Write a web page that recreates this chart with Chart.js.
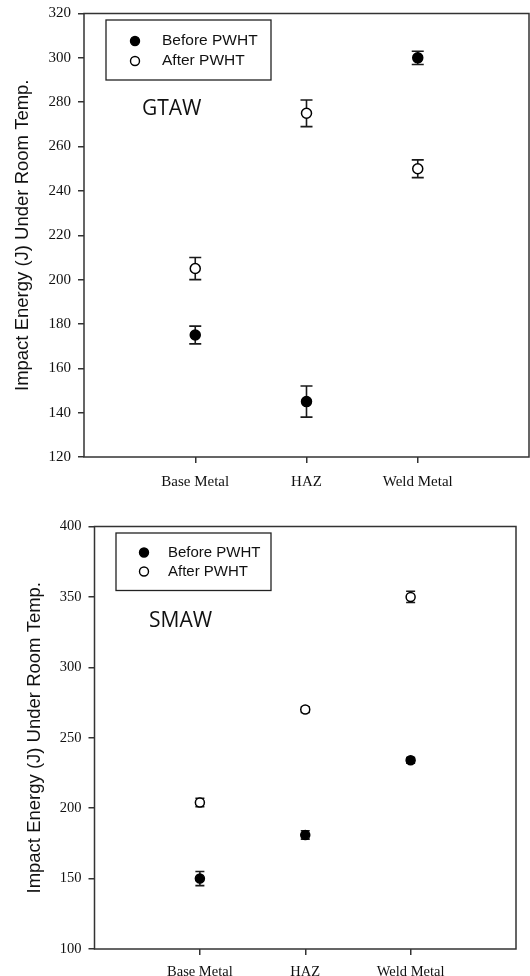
<!DOCTYPE html>
<html><head><meta charset="utf-8">
<script src="https://cdn.jsdelivr.net/npm/chart.js@4/dist/chart.umd.min.js"></script>
<style>
html,body{margin:0;padding:0;background:#fff;width:530px;height:976px;overflow:hidden}
#c1{position:absolute;left:0;top:0}
#c2{position:absolute;left:0;top:495px}
</style></head><body>
<canvas id="c1" width="530" height="495" style="width:530px;height:495px"></canvas>
<canvas id="c2" width="530" height="481" style="width:530px;height:481px"></canvas>
<script>
// ---- data ----
const categories = ['Base Metal', 'HAZ', 'Weld Metal'];
const seriesNames = ['Before PWHT', 'After PWHT'];
const yTitle = 'Impact Energy (J) Under Room Temp.';

const gtawBefore    = [175, 145, 300];
const gtawBeforeErr = [4, 7, 3];
const gtawAfter     = [205, 275, 250];
const gtawAfterErr  = [5, 6, 4];
const gtawTicks     = [120, 140, 160, 180, 200, 220, 240, 260, 280, 300, 320];

const smawBefore    = [150, 181, 234];
const smawBeforeErr = [5, 3, 2];
const smawAfter     = [204, 270, 350];
const smawAfterErr  = [3, 2, 4];
const smawTicks     = [100, 150, 200, 250, 300, 350, 400];

const INK = '#1a1a1a';

const toPts = arr => arr.map((v, i) => ({ x: i + 1, y: v }));

const errorBarPlugin = {
  id: 'errorBars',
  beforeDatasetsDraw(chart, args, opts) {
    const ctx = chart.ctx, ys = chart.scales.y;
    ctx.save();
    ctx.strokeStyle = INK;
    ctx.lineWidth = opts.lineWidth;
    chart.data.datasets.forEach((ds, di) => {
      const meta = chart.getDatasetMeta(di);
      ds.errors.forEach((e, j) => {
        const p = meta.data[j];
        const v = ds.data[j].y;
        const yt = ys.getPixelForValue(v + e), yb = ys.getPixelForValue(v - e);
        ctx.beginPath();
        ctx.moveTo(p.x, yt); ctx.lineTo(p.x, yb);
        ctx.moveTo(p.x - opts.cap, yt); ctx.lineTo(p.x + opts.cap, yt);
        ctx.moveTo(p.x - opts.cap, yb); ctx.lineTo(p.x + opts.cap, yb);
        ctx.stroke();
      });
    });
    ctx.restore();
  }
};

const framePlugin = {
  id: 'frame',
  afterDraw(chart, args, opts) {
    const a = chart.chartArea, ctx = chart.ctx;
    ctx.save();
    ctx.strokeStyle = '#333';
    ctx.lineWidth = 1.5;
    ctx.strokeRect(a.left, a.top, a.right - a.left, a.bottom - a.top);
    // inner legend box
    const L = opts.legend;
    ctx.lineWidth = 1.3;
    ctx.strokeStyle = '#222';
    ctx.strokeRect(L.x, L.y, L.w, L.h);
    ctx.font = L.font;
    ctx.textBaseline = 'middle';
    ctx.textAlign = 'left';
    chart.data.datasets.forEach((ds, i) => {
      const cy = L.rowY[i];
      ctx.beginPath();
      ctx.arc(L.markerX, cy, L.r, 0, Math.PI * 2);
      ctx.fillStyle = ds.pointBackgroundColor;
      ctx.fill();
      ctx.lineWidth = 1.4;
      ctx.strokeStyle = ds.pointBorderColor;
      ctx.stroke();
      ctx.fillStyle = '#111';
      ctx.fillText(ds.label, L.textX, cy);
    });
    // process label
    const T = opts.tag;
    ctx.font = T.font;
    ctx.fillStyle = '#111';
    ctx.fillText(T.text, T.x, T.y);
    ctx.restore();
  }
};

function makeChart(id, cfg) {
  const ds = (label, vals, errs, filled, r) => ({
    label, data: toPts(vals), errors: errs,
    pointRadius: r, pointHoverRadius: r,
    pointBackgroundColor: filled ? '#000' : '#fff',
    pointBorderColor: '#000', pointBorderWidth: 1.5,
    showLine: false
  });
  return new Chart(document.getElementById(id), {
    type: 'scatter',
    data: {
      datasets: [
        ds(seriesNames[0], cfg.before, cfg.beforeErr, true, cfg.r),
        ds(seriesNames[1], cfg.after, cfg.afterErr, false, cfg.r)
      ]
    },
    options: {
      responsive: false,
      animation: false,
      layout: { padding: cfg.padding, autoPadding: false },
      plugins: {
        legend: { display: false },
        tooltip: { enabled: false },
        errorBars: { cap: cfg.cap, lineWidth: 1.6 },
        frame: { legend: cfg.legend, tag: cfg.tag }
      },
      scales: {
        x: {
          type: 'linear', min: 0, max: 4,
          afterBuildTicks: s => { s.ticks = categories.map((c, i) => ({ value: i + 1 })); },
          afterFit: s => { s.height = cfg.xHeight; s.paddingLeft = 0; s.paddingRight = 0; },
          border: { display: false },
          grid: { drawOnChartArea: false, drawTicks: true, tickLength: 6, color: '#333', lineWidth: 1.5 },
          ticks: {
            autoSkip: false, maxRotation: 0, padding: cfg.xPad,
            color: '#111', font: { family: 'Liberation Serif', size: cfg.tickSize },
            callback: v => categories[Math.round(v) - 1] ?? ''
          }
        },
        y: {
          min: cfg.ticks[0], max: cfg.ticks[cfg.ticks.length - 1],
          afterBuildTicks: s => { s.ticks = cfg.ticks.map(v => ({ value: v })); },
          afterFit: s => { s.width = cfg.yWidth; s.paddingTop = 0; s.paddingBottom = 0; },
          border: { display: false },
          grid: { drawOnChartArea: false, drawTicks: true, tickLength: 6, color: '#333', lineWidth: 1.5 },
          ticks: {
            padding: 7, color: '#111',
            font: { family: 'Liberation Serif', size: cfg.tickSize }
          },
          title: {
            display: true, text: yTitle, color: '#111',
            font: { family: 'Liberation Sans', size: cfg.titleSize },
            padding: { top: cfg.titlePad, bottom: 0 }
          }
        }
      }
    },
    plugins: [errorBarPlugin, framePlugin]
  });
}

makeChart('c1', {
  before: gtawBefore, beforeErr: gtawBeforeErr,
  after: gtawAfter, afterErr: gtawAfterErr,
  ticks: gtawTicks, r: 5, cap: 6,
  padding: { top: 13.5, right: 1, bottom: 0, left: 0 },
  yWidth: 84, xHeight: 38, xPad: 10, tickSize: 15,
  titleSize: 18.5, titlePad: 12,
  legend: { x: 106, y: 20, w: 165, h: 60, markerX: 135, textX: 162, rowY: [41, 61], r: 4.5, font: '15.5px "Liberation Sans"' },
  tag: { text: 'GTAW', x: 142, y: 109, font: '21px "Open Sans"' }
});

makeChart('c2', {
  before: smawBefore, beforeErr: smawBeforeErr,
  after: smawAfter, afterErr: smawAfterErr,
  ticks: smawTicks, r: 4.5, cap: 4.5,
  padding: { top: 31.5, right: 14, bottom: 0, left: 0 },
  yWidth: 94.5, xHeight: 27, xPad: 8, tickSize: 14.5,
  titleSize: 18.5, titlePad: 24,
  legend: { x: 116, y: 38, w: 155, h: 57.5, markerX: 144, textX: 168, rowY: [57.5, 76.5], r: 4.5, font: '15px "Liberation Sans"' },
  tag: { text: 'SMAW', x: 149, y: 126.5, font: '21px "Open Sans"' }
});
</script>
</body></html>
